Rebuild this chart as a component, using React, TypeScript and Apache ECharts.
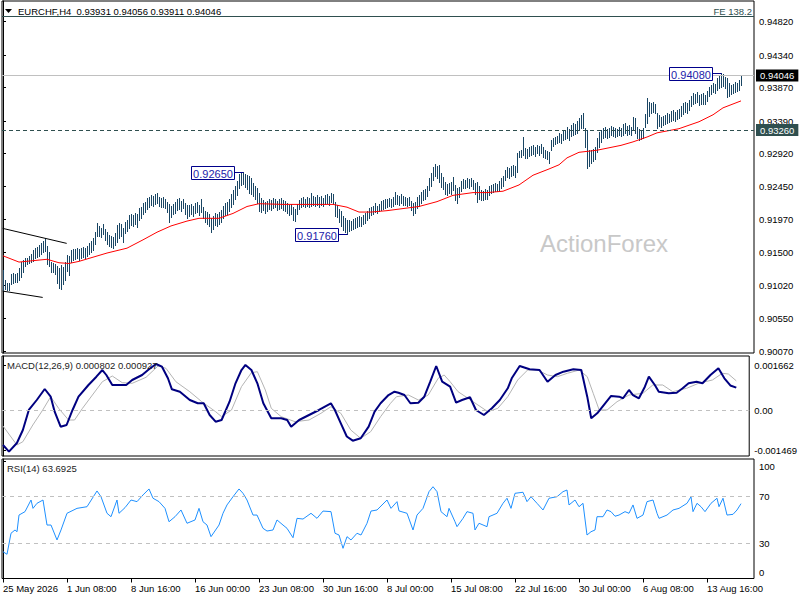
import React, { useEffect, useRef } from "react";
import * as echarts from "echarts";

const FONT = '"Liberation Sans", Arial, sans-serif';
const BAR_COLOR = "#1a4664";

// ---- price bars (H4), index 0 = 25 May 2026 00:00 ----
const highs = [
  0.9124, 0.9110, 0.9106, 0.9106, 0.9119, 0.9120, 0.9119, 0.9120, 0.9127, 0.9136,
  0.9139, 0.9142, 0.9142, 0.9145, 0.9147, 0.9153, 0.9156, 0.9157, 0.9160, 0.9163,
  0.9166, 0.9170, 0.9159, 0.9150, 0.9136, 0.9135, 0.9133, 0.9130, 0.9127, 0.9132,
  0.9129, 0.9136, 0.9146, 0.9145, 0.9153, 0.9155, 0.9155, 0.9156, 0.9155, 0.9156,
  0.9157, 0.9156, 0.9159, 0.9163, 0.9166, 0.9170, 0.9179, 0.9192, 0.9188, 0.9185,
  0.9191, 0.9183, 0.9179, 0.9175, 0.9173, 0.9172, 0.9178, 0.9189, 0.9192, 0.9191,
  0.9185, 0.9193, 0.9196, 0.9204, 0.9205, 0.9204, 0.9206, 0.9205, 0.9214, 0.9215,
  0.9221, 0.9222, 0.9228, 0.9229, 0.9232, 0.9231, 0.9234, 0.9235, 0.9229, 0.9228,
  0.9229, 0.9227, 0.9222, 0.9219, 0.9217, 0.9219, 0.9222, 0.9227, 0.9228, 0.9224,
  0.9227, 0.9221, 0.9218, 0.9218, 0.9219, 0.9217, 0.9221, 0.9222, 0.9218, 0.9227,
  0.9215, 0.9209, 0.9208, 0.9205, 0.9199, 0.9202, 0.9206, 0.9205, 0.9208, 0.9211,
  0.9217, 0.9221, 0.9222, 0.9227, 0.9234, 0.9240, 0.9245, 0.9253, 0.9263, 0.9264,
  0.9265, 0.9263, 0.9261, 0.9260, 0.9257, 0.9250, 0.9245, 0.9242, 0.9235, 0.9228,
  0.9225, 0.9222, 0.9224, 0.9227, 0.9225, 0.9228, 0.9227, 0.9224, 0.9227, 0.9228,
  0.9225, 0.9224, 0.9221, 0.9218, 0.9219, 0.9215, 0.9212, 0.9219, 0.9225, 0.9228,
  0.9229, 0.9227, 0.9229, 0.9228, 0.9235, 0.9231, 0.9229, 0.9232, 0.9229, 0.9231,
  0.9228, 0.9232, 0.9234, 0.9231, 0.9235, 0.9234, 0.9222, 0.9218, 0.9212, 0.9209,
  0.9202, 0.9199, 0.9196, 0.9196, 0.9195, 0.9198, 0.9199, 0.9201, 0.9202, 0.9201,
  0.9204, 0.9206, 0.9209, 0.9214, 0.9215, 0.9217, 0.9221, 0.9217, 0.9219, 0.9224,
  0.9225, 0.9227, 0.9227, 0.9228, 0.9227, 0.9229, 0.9237, 0.9232, 0.9231, 0.9234,
  0.9231, 0.9229, 0.9228, 0.9229, 0.9224, 0.9221, 0.9222, 0.9229, 0.9232, 0.9237,
  0.9240, 0.9241, 0.9245, 0.9257, 0.9264, 0.9273, 0.9277, 0.9274, 0.9276, 0.9264,
  0.9258, 0.9251, 0.9248, 0.9250, 0.9251, 0.9258, 0.9247, 0.9242, 0.9244, 0.9253,
  0.9255, 0.9254, 0.9257, 0.9255, 0.9257, 0.9254, 0.9250, 0.9251, 0.9245, 0.9240,
  0.9238, 0.9241, 0.9240, 0.9245, 0.9247, 0.9248, 0.9250, 0.9248, 0.9253, 0.9257,
  0.9260, 0.9268, 0.9273, 0.9271, 0.9274, 0.9276, 0.9274, 0.9293, 0.9296, 0.9297,
  0.9316, 0.9300, 0.9299, 0.9301, 0.9303, 0.9304, 0.9301, 0.9304, 0.9303, 0.9306,
  0.9301, 0.9297, 0.9296, 0.9294, 0.9312, 0.9314, 0.9316, 0.9317, 0.9322, 0.9320,
  0.9325, 0.9326, 0.9330, 0.9327, 0.9333, 0.9336, 0.9335, 0.9339, 0.9343, 0.9348,
  0.9350, 0.9329, 0.9326, 0.9297, 0.9297, 0.9299, 0.9301, 0.9314, 0.9323, 0.9326,
  0.9329, 0.9330, 0.9327, 0.9329, 0.9332, 0.9330, 0.9329, 0.9327, 0.9330, 0.9329,
  0.9335, 0.9336, 0.9332, 0.9333, 0.9330, 0.9345, 0.9343, 0.9330, 0.9327, 0.9326,
  0.9329, 0.9349, 0.9372, 0.9366, 0.9365, 0.9366, 0.9363, 0.9350, 0.9348, 0.9345,
  0.9346, 0.9348, 0.9350, 0.9349, 0.9353, 0.9355, 0.9352, 0.9355, 0.9356, 0.9361,
  0.9365, 0.9366, 0.9365, 0.9369, 0.9375, 0.9379, 0.9378, 0.9381, 0.9376, 0.9378,
  0.9379, 0.9376, 0.9382, 0.9388, 0.9391, 0.9394, 0.9392, 0.9401, 0.9405, 0.9408,
  0.9407, 0.9402, 0.9401, 0.9394, 0.9391, 0.9392, 0.9395, 0.9394, 0.9398, 0.94056,
];
const lows = [
  0.9096, 0.9097, 0.9096, 0.9096, 0.9104, 0.9106, 0.9107, 0.9107, 0.9110, 0.9114,
  0.9121, 0.9130, 0.9133, 0.9135, 0.9136, 0.9137, 0.9142, 0.9143, 0.9145, 0.9147,
  0.9150, 0.9152, 0.9133, 0.9130, 0.9121, 0.9121, 0.9119, 0.9106, 0.9098, 0.9097,
  0.9104, 0.9110, 0.9123, 0.9117, 0.9136, 0.9139, 0.9140, 0.9142, 0.9139, 0.9142,
  0.9143, 0.9142, 0.9145, 0.9147, 0.9150, 0.9153, 0.9162, 0.9173, 0.9173, 0.9172,
  0.9176, 0.9168, 0.9162, 0.9159, 0.9157, 0.9156, 0.9160, 0.9165, 0.9170, 0.9173,
  0.9165, 0.9178, 0.9181, 0.9185, 0.9189, 0.9188, 0.9191, 0.9186, 0.9196, 0.9199,
  0.9205, 0.9208, 0.9212, 0.9215, 0.9218, 0.9217, 0.9219, 0.9221, 0.9217, 0.9215,
  0.9215, 0.9214, 0.9208, 0.9193, 0.9201, 0.9205, 0.9206, 0.9211, 0.9212, 0.9209,
  0.9214, 0.9205, 0.9199, 0.9202, 0.9205, 0.9202, 0.9206, 0.9208, 0.9204, 0.9208,
  0.9199, 0.9193, 0.9191, 0.9188, 0.9179, 0.9183, 0.9189, 0.9188, 0.9191, 0.9193,
  0.9199, 0.9204, 0.9205, 0.9209, 0.9215, 0.9219, 0.9227, 0.9232, 0.9242, 0.9247,
  0.9248, 0.9244, 0.9241, 0.9235, 0.9234, 0.9231, 0.9227, 0.9221, 0.9209, 0.9208,
  0.9211, 0.9206, 0.9209, 0.9212, 0.9211, 0.9214, 0.9215, 0.9211, 0.9212, 0.9214,
  0.9211, 0.9209, 0.9206, 0.9204, 0.9205, 0.9196, 0.9195, 0.9205, 0.9212, 0.9215,
  0.9217, 0.9215, 0.9217, 0.9215, 0.9217, 0.9218, 0.9217, 0.9218, 0.9215, 0.9218,
  0.9217, 0.9219, 0.9221, 0.9218, 0.9222, 0.9221, 0.9202, 0.9201, 0.9193, 0.9188,
  0.9182, 0.9179, 0.9176, 0.9181, 0.9182, 0.9183, 0.9185, 0.9186, 0.9188, 0.9188,
  0.9191, 0.9192, 0.9196, 0.9199, 0.9204, 0.9205, 0.9208, 0.9206, 0.9209, 0.9211,
  0.9212, 0.9214, 0.9215, 0.9217, 0.9215, 0.9217, 0.9219, 0.9219, 0.9218, 0.9221,
  0.9218, 0.9218, 0.9217, 0.9218, 0.9211, 0.9204, 0.9206, 0.9214, 0.9217, 0.9221,
  0.9225, 0.9227, 0.9231, 0.9240, 0.9245, 0.9254, 0.9260, 0.9257, 0.9251, 0.9244,
  0.9241, 0.9234, 0.9232, 0.9235, 0.9234, 0.9240, 0.9225, 0.9221, 0.9229, 0.9238,
  0.9242, 0.9242, 0.9244, 0.9242, 0.9245, 0.9241, 0.9234, 0.9222, 0.9227, 0.9225,
  0.9225, 0.9227, 0.9227, 0.9232, 0.9235, 0.9237, 0.9238, 0.9238, 0.9240, 0.9242,
  0.9245, 0.9254, 0.9258, 0.9257, 0.9260, 0.9261, 0.9258, 0.9266, 0.9287, 0.9287,
  0.9290, 0.9286, 0.9286, 0.9289, 0.9290, 0.9291, 0.9289, 0.9293, 0.9290, 0.9293,
  0.9287, 0.9286, 0.9284, 0.9278, 0.9297, 0.9303, 0.9306, 0.9307, 0.9309, 0.9307,
  0.9312, 0.9313, 0.9314, 0.9312, 0.9317, 0.9319, 0.9320, 0.9322, 0.9326, 0.9329,
  0.9329, 0.9301, 0.9271, 0.9274, 0.9278, 0.9281, 0.9284, 0.9294, 0.9301, 0.9309,
  0.9314, 0.9316, 0.9314, 0.9316, 0.9319, 0.9317, 0.9316, 0.9317, 0.9319, 0.9317,
  0.9319, 0.9322, 0.9319, 0.9320, 0.9319, 0.9326, 0.9322, 0.9314, 0.9312, 0.9313,
  0.9314, 0.9330, 0.9336, 0.9346, 0.9350, 0.9352, 0.9350, 0.9329, 0.9332, 0.9330,
  0.9333, 0.9335, 0.9336, 0.9338, 0.9339, 0.9340, 0.9339, 0.9342, 0.9343, 0.9346,
  0.9349, 0.9352, 0.9350, 0.9355, 0.9361, 0.9363, 0.9365, 0.9366, 0.9362, 0.9363,
  0.9363, 0.9363, 0.9368, 0.9375, 0.9378, 0.9381, 0.9379, 0.9384, 0.9386, 0.9388,
  0.9389, 0.9386, 0.9374, 0.9375, 0.9378, 0.9379, 0.9381, 0.9382, 0.9384, 0.93911,
];

// ---- moving average (red), [bar index, value] ----
const maPoints = [
  [0, 0.9145], [8, 0.9136], [15, 0.9138], [22, 0.9140], [28, 0.9135], [33, 0.9134],
  [38, 0.9137], [45, 0.9143], [52, 0.9149], [62, 0.9156], [70, 0.9168], [77, 0.9179],
  [84, 0.9188], [92, 0.9195], [98, 0.9199], [108, 0.9199], [115, 0.9206], [122, 0.9216],
  [128, 0.9220], [140, 0.9219], [152, 0.9219], [165, 0.9219], [172, 0.9215], [178, 0.9208],
  [184, 0.9208], [192, 0.9210], [200, 0.9213], [208, 0.9216], [217, 0.9223], [225, 0.9232],
  [235, 0.9236], [242, 0.9236], [250, 0.9238], [258, 0.9247], [265, 0.9261], [273, 0.9270],
  [278, 0.9276], [282, 0.9286], [288, 0.9294], [297, 0.9297], [309, 0.9304], [315, 0.9309],
  [322, 0.9316], [327, 0.9322], [338, 0.9328], [348, 0.9338], [355, 0.9348], [360, 0.9358],
  [369, 0.9368],
];

// ---- channel lines ----
const channelUpper = [[-0.15, 0.91845], [31.85, 0.91629]];
const channelLower = [[-0.15, 0.90942], [19.85, 0.90851]];

// ---- horizontal levels ----
const bidPrice = 0.94046;
const levelPrice = 0.9326;

// ---- labelled swing points ----
const annotIdx = [120, 172, 359];
const annotPrice = [0.9265, 0.9176, 0.9408];

// ---- MACD (12,26,9) ----
const macdPoints = [
  [0, -0.001264], [3, -0.00151], [7, -0.00119], [10, -0.000711], [13, 0.000026], [17, 0.000394],
  [21, 0.000799], [24, 0.000516], [26, -0.000037], [29, -0.000589], [32, -0.000527], [35, 0.000026],
  [38, 0.000516], [43, 0.000947], [47, 0.001253], [50, 0.001499], [52, 0.001315], [55, 0.000947],
  [58, 0.000947], [62, 0.000947], [65, 0.001131], [70, 0.001315], [73, 0.001499], [77, 0.00172],
  [80, 0.001621], [83, 0.001194], [85, 0.000788], [89, 0.0007], [94, 0.000394], [98, 0.000273],
  [101, 0.000273], [104, -0.000158], [107, -0.000405], [110, -0.000343], [114, 0.000332], [117, 0.001009],
  [120, 0.001499], [122, 0.001684], [125, 0.001499], [128, 0.001009], [131, 0.000273], [135, -0.00028],
  [140, -0.00028], [143, -0.000343], [145, -0.000589], [149, -0.000343], [154, -0.000158], [159, 0.000026],
  [165, 0.000273], [167, 0.000026], [170, -0.000464], [173, -0.00095], [176, -0.001105], [180, -0.001017],
  [184, -0.000589], [187, -0.000037], [190, 0.000273], [194, 0.000578], [197, 0.0007], [199, 0.000663],
  [202, 0.000578], [205, 0.000273], [209, 0.000295], [212, 0.000516], [215, 0.001068], [218, 0.001647],
  [221, 0.001068], [225, 0.000884], [228, 0.000295], [231, 0.000394], [235, 0.000494], [238, 0.000026],
  [242, -0.000158], [246, 0.000088], [250, 0.000394], [254, 0.000825], [256, 0.001194], [260, 0.001647],
  [265, 0.001525], [270, 0.001499], [274, 0.001068], [278, 0.001315], [282, 0.001437], [287, 0.001525],
  [291, 0.001499], [294, 0.000516], [296, -0.00028], [299, -0.000096], [303, 0.000273], [306, 0.000542],
  [310, 0.000516], [312, 0.000457], [315, 0.000763], [317, 0.000578], [320, 0.000457], [323, 0.000884],
  [325, 0.001253], [328, 0.000947], [330, 0.0007], [335, 0.000641], [339, 0.000663], [342, 0.000825],
  [345, 0.001009], [349, 0.001068], [352, 0.001009], [356, 0.001315], [360, 0.001562], [363, 0.001194],
  [366, 0.00093], [369, 0.00085],
];
const signalPoints = [
  [0, -0.000564], [7, -0.001264], [10, -0.001142], [15, -0.000527], [20, 0.000026], [24, 0.000516],
  [28, 0.000088], [33, -0.000343], [36, -0.000343], [40, 0.000088], [45, 0.000578], [50, 0.001068],
  [55, 0.001278], [60, 0.001032], [65, 0.001009], [72, 0.00123], [78, 0.001647], [82, 0.001562],
  [87, 0.001068], [94, 0.0007], [100, 0.000332], [107, -0.000037], [110, -0.000221], [115, 0.000026],
  [120, 0.000884], [125, 0.0014], [128, 0.001437], [132, 0.000763], [135, 0.000088], [140, -0.000221],
  [147, -0.000405], [154, -0.000343], [160, -0.000096], [165, 0.000147], [170, -0.000096], [175, -0.000711],
  [180, -0.001017], [185, -0.000774], [190, -0.000221], [195, 0.000273], [198, 0.000516], [204, 0.000578],
  [209, 0.000394], [214, 0.000578], [219, 0.001194], [222, 0.001315], [225, 0.001068], [229, 0.0007],
  [234, 0.000457], [239, 0.00021], [244, -0.000037], [249, 0.000088], [254, 0.000516], [259, 0.001131],
  [264, 0.001499], [269, 0.001499], [274, 0.001315], [279, 0.001253], [284, 0.001378], [290, 0.001499],
  [294, 0.001253], [297, 0.000641], [300, 0.000026], [304, 0.000026], [309, 0.000332], [315, 0.000578],
  [322, 0.000641], [327, 0.000947], [332, 0.000947], [337, 0.0007], [344, 0.000825], [350, 0.001009],
  [357, 0.001131], [362, 0.001378], [365, 0.001352], [369, 0.0011],
];

// ---- RSI(14) ----
const rsiPoints = [
  [0, 22.8], [2, 20.6], [4, 38.5], [6, 41.3], [7, 39.8], [8, 54], [11, 56.9], [14, 66.8], [15, 59.7],
  [17, 64], [20, 66.8], [22, 45.5], [24, 45.5], [27, 32.8], [29, 41.3], [32, 55.5], [37, 59.7], [42, 61.1],
  [47, 74.5], [49, 69.6], [52, 55.5], [54, 52.6], [57, 66.8], [58, 55.5], [61, 60.3], [64, 66.8], [67, 65.4],
  [70, 71.1], [73, 76.2], [75, 68.3], [78, 65.4], [81, 59.7], [83, 48.3], [86, 52.6], [89, 58.3], [92, 47],
  [96, 49.8], [98, 59.7], [100, 48.3], [102, 45.5], [104, 35.6], [108, 45.5], [110, 55.5], [112, 62.6],
  [115, 69.6], [118, 76.2], [120, 72.5], [122, 66.8], [125, 54], [127, 54], [130, 42.7], [132, 40.4],
  [135, 41.3], [137, 49.8], [140, 45.5], [142, 42.7], [145, 34.7], [147, 51.2], [150, 50.6], [154, 55.5],
  [157, 51.2], [160, 57.4], [164, 56.9], [166, 38.5], [168, 37], [170, 25.7], [172, 35.6], [174, 32.8],
  [177, 38.5], [179, 37], [182, 47], [184, 57.4], [187, 58.3], [192, 66.8], [194, 59.7], [197, 65.4],
  [198, 57.5], [202, 55.5], [205, 41.3], [207, 54], [210, 59.7], [213, 73.9], [215, 78.1], [217, 73.9],
  [219, 56.9], [222, 52.6], [223, 59.7], [226, 48.3], [227, 44.1], [230, 51.2], [232, 56.9], [235, 55.5],
  [236, 41.3], [238, 47], [242, 44.1], [243, 52.6], [247, 55.5], [250, 64], [252, 68.3], [254, 59.7],
  [256, 72.5], [260, 73.4], [262, 65.4], [264, 69.6], [267, 64], [270, 58.3], [273, 68.3], [277, 69.6],
  [280, 73.9], [282, 75.3], [283, 62.6], [286, 66.8], [288, 61.1], [290, 64], [292, 37], [294, 39.8],
  [296, 41.3], [297, 52.6], [300, 52.6], [302, 58.3], [304, 56.9], [306, 53], [308, 54], [311, 56.9],
  [313, 55.5], [315, 62.6], [317, 51.2], [320, 54], [322, 65.4], [325, 66.8], [327, 55.5], [328, 51.2],
  [332, 54], [335, 58.3], [338, 59.7], [342, 64], [344, 69.6], [345, 56.9], [347, 64], [349, 61.1],
  [351, 56.9], [354, 64], [357, 68.3], [358, 61.1], [360, 68.3], [362, 54], [365, 54.6], [367, 58.3],
  [369, 63.69],
];
const rsiLevels = [70, 30];

// ---- axis ticks ----
const priceTicks = [0.9007, 0.9055, 0.9102, 0.915, 0.9197, 0.9245, 0.9292, 0.9339, 0.9387, 0.9434, 0.9482];
const macdTicks = [-0.001469, 0, 0.001662];
const rsiTicks = [0, 30, 70, 100];
const xLabelIdx = [0, 32, 64, 96, 128, 160, 192, 224, 256, 288, 320, 352];
const xLabels = [
  "25 May 2026", "1 Jun 08:00", "8 Jun 16:00", "16 Jun 00:00", "23 Jun 08:00", "30 Jun 16:00",
  "8 Jul 00:00", "15 Jul 08:00", "22 Jul 16:00", "30 Jul 00:00", "6 Aug 08:00", "13 Aug 16:00",
];

const X_MIN = -0.5;
const X_MAX = 375.5;

function buildOption(): any {
  const labelFont = { fontSize: 9.5, color: "#000", fontFamily: FONT };
  const gridBase = { left: 2, width: 752, show: true, borderColor: "#000", borderWidth: 1, backgroundColor: "transparent" };
  const xBase = {
    type: "value", min: X_MIN, max: X_MAX,
    splitLine: { show: false }, axisLine: { show: false }, axisTick: { show: false }, axisLabel: { show: false },
  };
  const yBase = {
    type: "value", position: "right",
    splitLine: { show: false },
    axisLine: { show: true, lineStyle: { color: "#000", width: 1 } },
  };
  return {
    animation: false,
    backgroundColor: "#fff",
    textStyle: { fontFamily: FONT },
    grid: [
      { ...gridBase, top: 1, height: 352 },
      { ...gridBase, top: 356, height: 100 },
      { ...gridBase, top: 459, height: 119.5 },
    ],
    xAxis: [
      { ...xBase, gridIndex: 0 },
      { ...xBase, gridIndex: 1 },
      {
        ...xBase, gridIndex: 2,
        axisTick: { show: true, customValues: xLabelIdx, length: 4, lineStyle: { color: "#000" } },
        axisLabel: {
          show: true, customValues: xLabelIdx, align: "left", margin: 5, ...labelFont,
          formatter: (v: number) => {
            const k = xLabelIdx.indexOf(Math.round(v));
            return k >= 0 ? xLabels[k] : "";
          },
        },
      },
    ],
    yAxis: [
      {
        ...yBase, gridIndex: 0, min: 0.90051, max: 0.95118,
        axisTick: { show: true, customValues: priceTicks, length: 3, lineStyle: { color: "#000" } },
        axisLabel: { customValues: priceTicks, margin: 5, ...labelFont, formatter: (v: number) => v.toFixed(5) },
      },
      {
        ...yBase, gridIndex: 1, min: -0.001669, max: 0.002015,
        axisTick: { show: true, customValues: macdTicks, length: 3, lineStyle: { color: "#000" } },
        axisLabel: {
          customValues: macdTicks, margin: 5, ...labelFont,
          formatter: (v: number) => (Math.abs(v) < 1e-9 ? "0.00" : v.toFixed(6)),
        },
      },
      {
        ...yBase, gridIndex: 2, min: 0, max: 101.7,
        axisTick: { show: true, customValues: rsiTicks, length: 3, lineStyle: { color: "#000" } },
        axisLabel: {
          customValues: rsiTicks, margin: 5, ...labelFont,
          formatter: (v: number) => (v >= 99 ? "{t|" + Math.round(v) + "}" : v <= 1 ? "{b|" + Math.round(v) + "}" : "{n|" + Math.round(v) + "}"),
          rich: {
            t: { ...labelFont, padding: [11, 0, 0, 0] },
            b: { ...labelFont, padding: [0, 0, 12, 0] },
            n: { ...labelFont },
          },
        },
      },
    ],
    graphic: [
      { type: "line", z: 5, shape: { x1: 2, y1: 16.5, x2: 754, y2: 16.5 }, style: { stroke: "#2f4f4f", lineWidth: 1 } },
      { type: "polygon", z: 10, shape: { points: [[5, 9], [12, 9], [8.5, 13]] }, style: { fill: "#000" } },
      {
        type: "text", z: 10, x: 18, y: 11,
        style: { text: "EURCHF,H4  0.93931 0.94056 0.93911 0.94046", fill: "#000", fontSize: 9.5, fontFamily: FONT, verticalAlign: "middle", textVerticalAlign: "middle" },
      },
      {
        type: "text", z: 10, x: 752, y: 11,
        style: { text: "FE 138.2", fill: "#2f4f4f", fontSize: 9.5, fontFamily: FONT, align: "right", textAlign: "right", verticalAlign: "middle", textVerticalAlign: "middle" },
      },
      {
        type: "text", z: 10, x: 7, y: 365,
        style: { text: "MACD(12,26,9) 0.000802 0.000927", fill: "#222", fontSize: 9.5, fontFamily: FONT, verticalAlign: "middle", textVerticalAlign: "middle" },
      },
      {
        type: "text", z: 10, x: 7, y: 468,
        style: { text: "RSI(14) 63.6925", fill: "#222", fontSize: 9.5, fontFamily: FONT, verticalAlign: "middle", textVerticalAlign: "middle" },
      },
      {
        type: "text", z: 1, x: 540, y: 243,
        style: { text: "ActionForex", fill: "#c8c8c8", fontSize: 24, fontFamily: FONT, verticalAlign: "middle", textVerticalAlign: "middle" },
      },
    ],
    series: [
      {
        type: "custom", name: "bars", xAxisIndex: 0, yAxisIndex: 0, z: 3,
        data: highs.map((h, i) => [i, h, lows[i]]),
        encode: { x: 0, y: [1, 2] },
        renderItem: (_p: any, api: any) => {
          const i = api.value(0);
          const a = api.coord([i, api.value(1)]);
          const b = api.coord([i, api.value(2)]);
          const x = Math.round(a[0]) + 0.5;
          return {
            type: "line",
            shape: { x1: x, y1: Math.round(a[1]), x2: x, y2: Math.round(b[1]) + 1 },
            style: { stroke: BAR_COLOR, lineWidth: 1 },
          };
        },
      },
      {
        type: "line", name: "ma", xAxisIndex: 0, yAxisIndex: 0, z: 4,
        data: maPoints, showSymbol: false, symbol: "none",
        lineStyle: { color: "#ff0000", width: 1 },
        markLine: {
          symbol: "none", silent: true, animation: false, precision: 5,
          data: [
            {
              yAxis: bidPrice,
              lineStyle: { color: "#c0c0c0", type: "solid", width: 1 },
              label: {
                show: true, position: "end", distance: 2, formatter: bidPrice.toFixed(5),
                color: "#fff", backgroundColor: "#000", padding: [1, 4, 1, 4], fontSize: 9.5, fontFamily: FONT,
              },
            },
            {
              yAxis: levelPrice,
              lineStyle: { color: "#2f4f4f", type: [4, 3], width: 1 },
              label: {
                show: true, position: "end", distance: 2, formatter: levelPrice.toFixed(5),
                color: "#fff", backgroundColor: "#2f4f4f", padding: [1, 4, 1, 4], fontSize: 9.5, fontFamily: FONT,
              },
            },
          ],
        },
      },
      {
        type: "line", xAxisIndex: 0, yAxisIndex: 0, z: 4, data: channelUpper, symbol: "none",
        lineStyle: { color: "#000", width: 1 },
      },
      {
        type: "line", xAxisIndex: 0, yAxisIndex: 0, z: 4, data: channelLower, symbol: "none",
        lineStyle: { color: "#000", width: 1 },
      },
      {
        type: "custom", name: "annotations", xAxisIndex: 0, yAxisIndex: 0, z: 6, clip: false,
        data: annotIdx.map((x, i) => [x, annotPrice[i]]),
        encode: { x: 0, y: 1 },
        renderItem: (_p: any, api: any) => {
          const c = api.coord([api.value(0), api.value(1)]);
          const w = 43, h = 13, gap = 9;
          const cy = Math.round(c[1]) + 0.5;
          const bx = Math.round(c[0] - gap - w) + 0.5;
          const by = Math.round(c[1] - h / 2) + 0.5;
          return {
            type: "group",
            children: [
              { type: "line", shape: { x1: bx + w, y1: cy, x2: Math.round(c[0]) + 0.5, y2: cy }, style: { stroke: "#00008b", lineWidth: 1 } },
              { type: "rect", shape: { x: bx, y: by, width: w, height: h }, style: { fill: "#fff", stroke: "#00008b", lineWidth: 1 } },
              {
                type: "text",
                style: {
                  text: Number(api.value(1)).toFixed(5), x: bx + w / 2, y: by + h / 2 + 0.5,
                  align: "center", verticalAlign: "middle", textAlign: "center", textVerticalAlign: "middle",
                  fill: "#2222aa", fontSize: 11, fontFamily: FONT,
                },
              },
            ],
          };
        },
      },
      {
        type: "line", name: "signal", xAxisIndex: 1, yAxisIndex: 1, z: 3,
        data: signalPoints, symbol: "none", lineStyle: { color: "#b4b4b4", width: 1 },
        markLine: {
          symbol: "none", silent: true, label: { show: false }, precision: 6,
          lineStyle: { color: "#c0c0c0", type: [4, 4], width: 1 },
          data: [{ yAxis: 0 }],
        },
      },
      {
        type: "line", name: "macd", xAxisIndex: 1, yAxisIndex: 1, z: 4,
        data: macdPoints, symbol: "none", lineStyle: { color: "#000080", width: 2 },
      },
      {
        type: "line", name: "rsi", xAxisIndex: 2, yAxisIndex: 2, z: 4,
        data: rsiPoints, symbol: "none", lineStyle: { color: "#1e90ff", width: 1 },
        markLine: {
          symbol: "none", silent: true, label: { show: false },
          lineStyle: { color: "#c0c0c0", type: [4, 4], width: 1 },
          data: rsiLevels.map((v) => ({ yAxis: v })),
        },
      },
    ],
  };
}

export default function App() {
  const ref = useRef<HTMLDivElement>(null);
  useEffect(() => {
    document.body.style.margin = "0";
    const chart = echarts.init(ref.current as HTMLDivElement, null, { renderer: "svg" });
    chart.setOption(buildOption());
    return () => chart.dispose();
  }, []);
  return <div ref={ref} style={{ width: 800, height: 600, background: "#fff" }} />;
}
